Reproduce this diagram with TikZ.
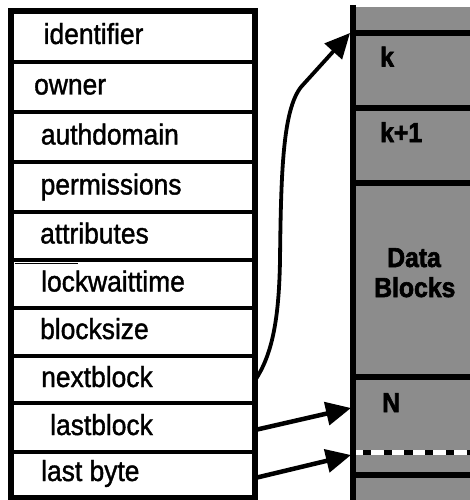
\documentclass[tikz,border=0pt]{standalone}
\usepackage{fontspec}
\setmainfont{Liberation Sans}
\newfontfamily\lblfont{Liberation Sans}[FakeStretch=0.91, FakeBold=1.3]
\newfontfamily\blkfont{Liberation Sans}[UprightFont={* Bold}, FakeStretch=0.9, FakeBold=2.2]
\usetikzlibrary{arrows.meta}
\begin{document}
\begin{tikzpicture}[x=1pt,y=-1pt,
  row/.style={draw, line width=3.5pt, minimum width=244pt, inner sep=0pt, outer sep=0pt, anchor=north west},
  lbl/.style={anchor=base west, inner sep=0pt, font=\fontsize{29}{32}\lblfont},
  blk/.style={anchor=base west, inner sep=0pt, font=\fontsize{27.5}{30}\blkfont},
  ptr/.style={line width=4.5pt, -{Triangle[length=25pt,width=23pt]}},
  sep/.style={line width=6pt},
  shade/.style={fill=black!45}]
\useasboundingbox (0,0) rectangle (470,500);
% ---- left table ----
\node[row, minimum height=51pt] (r1) at (11,11) {};
\node[row, minimum height=50pt] (r2) at (11,62) {};
\node[row, minimum height=50pt] (r3) at (11,112) {};
\node[row, minimum height=50pt] (r4) at (11,162) {};
\node[row, minimum height=48pt] (r5) at (11,212) {};
\node[row, minimum height=48pt] (r6) at (11,260) {};
\node[row, minimum height=48pt] (r7) at (11,308) {};
\node[row, minimum height=47pt] (r8) at (11,356) {};
\node[row, minimum height=49pt] (r9) at (11,403) {};
\node[row, minimum height=46pt] (r10) at (11,452) {};
\draw[line width=6pt] (r1.north west) rectangle (r10.south east);
\draw[line width=0.8pt] (15,263) -- (78,263);
\node[lbl] (t1) at (43.5,44) {identifier};
\node[lbl] (t2) at (34,94.5) {owner};
\node[lbl] (t3) at (40.7,144.5) {authdomain};
\node[lbl] (t4) at (40.5,194.5) {permissions};
\node[lbl] (t5) at (40,243.5) {attributes};
\node[lbl] (t6) at (41,291.5) {lockwaittime};
\node[lbl] (t7) at (40,339) {blocksize};
\node[lbl] (t8) at (41,387) {nextblock};
\node[lbl] (t9) at (50,435) {lastblock};
\node[lbl] (t10) at (41,481) {last byte};
% ---- right column ----
\fill[shade] (353,7) rectangle (470,500);
\draw[sep] (352.5,5) -- (352.5,500);
\draw[sep] (352,33) -- (470,33);
\draw[sep] (352,108) -- (470,108);
\draw[sep] (352,183) -- (470,183);
\draw[sep] (352,377) -- (470,377);
\draw[sep] (352,475) -- (470,475);
\draw[white, line width=5pt] (356,452.5) -- (470,452.5);
\draw[line width=4.5pt, dash pattern=on 8.3pt off 12.4pt] (363,452.5) -- (470,452.5);
\node[blk] (k) at (380,66.5) {k};
\node[blk] (k1) at (380,142) {k+1};
\node[blk] (d1) at (387,267) {Data};
\node[blk] (d2) at (374,297) {Blocks};
\node[blk] (n) at (382,412) {N};
\coordinate (kt) at (350,33);
\coordinate (nt) at (351,408);
\coordinate (bt) at (351,455);
% ---- pointers ----
\draw[ptr, line width=3.8pt] ([yshift=-1pt]r8.east) .. controls (272,355) and (279,320) .. (280,260)
  .. controls (281,170) and (283,110) .. (301,87) -- (kt);
\draw[ptr] ([yshift=-2.5pt]r9.east) -- (nt);
\draw[ptr] ([yshift=-3pt]r10.east) -- (bt);
\end{tikzpicture}
\end{document}
